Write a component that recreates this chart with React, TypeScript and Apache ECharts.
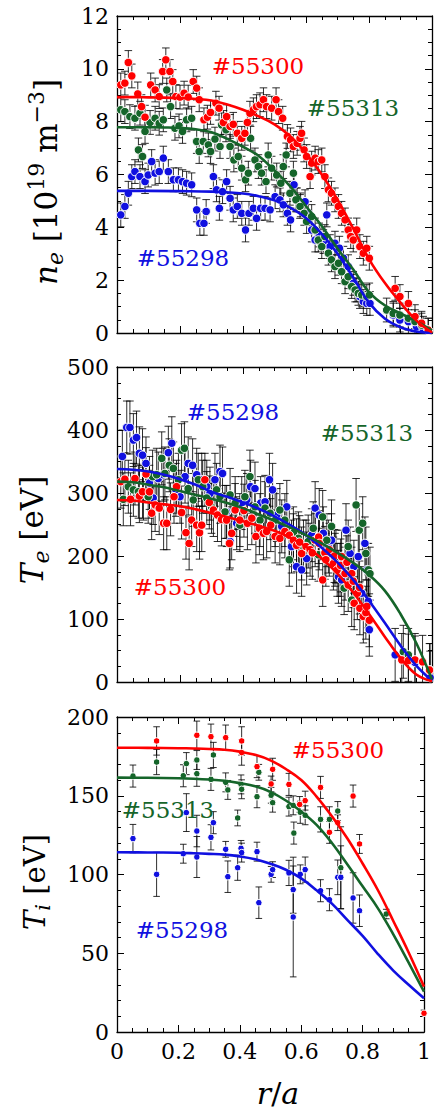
import React, { useEffect, useRef } from 'react';
import * as echarts from 'echarts';

const FONT = '"DejaVu Serif", "Liberation Serif", serif';
const RED = '#ff0000';
const GREEN = '#15652a';
const BLUE = '#1010e0';

// ---------- n_e panel data [r/a, n_e] ----------
const NE_RED: number[][] = [
  [0.012,9.39],[0.025,9.46],[0.036,10.24],[0.047,9.73],[0.066,9.05],[0.078,8.57],[0.089,8.17],[0.107,9.39],[0.121,9.20],[0.134,8.95],
  [0.145,9.90],[0.155,10.34],[0.168,9.90],[0.177,9.52],[0.187,8.95],[0.200,8.93],[0.213,9.08],[0.226,8.93],[0.242,9.52],[0.253,9.27],
  [0.261,8.83],[0.276,8.07],[0.287,8.17],[0.297,8.35],[0.314,8.70],[0.324,8.51],[0.338,7.97],[0.348,8.19],[0.359,7.82],[0.369,7.90],
  [0.382,7.56],[0.396,7.37],[0.406,7.56],[0.414,7.97],[0.422,8.32],[0.433,8.45],[0.443,8.57],[0.454,8.64],[0.465,8.83],[0.475,8.57],
  [0.491,8.51],[0.505,8.83],[0.513,8.38],[0.526,8.13],[0.541,7.44],[0.551,7.31],[0.560,7.06],[0.572,7.18],[0.581,7.37],[0.586,7.56],
  [0.594,6.93],[0.602,6.68],[0.613,5.92],[0.618,6.43],[0.629,6.62],[0.639,6.49],[0.650,6.55],[0.660,5.92],[0.671,5.42],[0.681,5.29],
  [0.692,5.04],[0.703,4.79],[0.713,4.53],[0.724,4.28],[0.734,3.90],[0.742,3.65],[0.750,3.52],[0.761,3.90],[0.771,3.27],[0.782,3.02],
  [0.793,3.21],[0.801,2.83],[0.883,1.69],[0.898,1.38],[0.925,1.12],[0.946,0.62],[0.967,0.37],[0.988,0.11]
];
const NE_GREEN: number[][] = [
  [0.012,8.45],[0.025,8.38],[0.041,8.19],[0.057,8.13],[0.068,6.93],[0.073,8.32],[0.081,6.68],[0.089,7.63],[0.105,7.97],[0.121,8.13],
  [0.134,7.94],[0.147,8.07],[0.158,9.20],[0.170,8.57],[0.184,7.75],[0.197,7.84],[0.208,7.63],[0.221,8.07],[0.237,8.13],[0.253,7.25],
  [0.261,6.87],[0.274,7.25],[0.290,7.12],[0.297,6.87],[0.311,7.34],[0.327,7.06],[0.332,7.88],[0.346,7.69],[0.359,7.06],[0.371,6.55],
  [0.385,6.68],[0.396,6.24],[0.408,5.80],[0.417,6.05],[0.424,7.37],[0.438,6.55],[0.449,6.30],[0.459,6.05],[0.473,5.73],[0.480,6.74],
  [0.491,6.24],[0.507,5.98],[0.520,5.67],[0.528,6.30],[0.537,6.74],[0.549,5.29],[0.560,6.05],[0.568,5.04],[0.581,4.79],[0.594,4.53],
  [0.602,4.22],[0.618,4.41],[0.629,3.90],[0.639,3.52],[0.650,3.27],[0.660,3.65],[0.671,3.02],[0.681,2.77],[0.692,2.51],[0.703,2.64],
  [0.713,2.32],[0.724,1.94],[0.734,2.13],[0.745,1.76],[0.756,1.63],[0.766,1.50],[0.777,1.44],[0.793,1.38],[0.801,1.44],[0.856,0.87],
  [0.877,0.74],[0.898,0.68],[0.925,0.56],[0.946,0.43],[0.967,0.30],[0.988,0.11]
];
const NE_BLUE: number[][] = [
  [0.012,4.47],[0.025,4.79],[0.036,5.29],[0.047,5.92],[0.057,6.11],[0.073,5.92],[0.089,5.73],[0.099,5.98],[0.110,6.49],[0.121,6.05],
  [0.134,6.11],[0.147,6.62],[0.163,6.11],[0.179,5.80],[0.195,5.80],[0.208,5.73],[0.221,5.67],[0.237,5.61],[0.253,4.66],[0.263,4.15],
  [0.276,4.15],[0.283,4.60],[0.306,5.92],[0.316,5.42],[0.325,4.72],[0.335,5.35],[0.348,5.73],[0.359,5.10],[0.369,4.66],[0.382,4.79],
  [0.396,4.53],[0.408,3.90],[0.419,4.53],[0.433,4.72],[0.443,4.34],[0.456,4.72],[0.470,4.72],[0.486,4.66],[0.502,5.16],[0.517,5.04],
  [0.528,4.85],[0.541,4.53],[0.551,4.28],[0.562,5.61],[0.572,5.04],[0.583,4.85],[0.597,4.97],[0.607,4.53],[0.618,3.90],[0.629,3.52],
  [0.642,3.71],[0.655,3.46],[0.666,4.47],[0.676,3.27],[0.692,3.40],[0.706,3.21],[0.719,2.83],[0.734,2.51],[0.750,1.88],[0.761,1.63],
  [0.771,1.38],[0.782,1.19],[0.793,1.12],[0.803,1.12],[0.877,0.68],[0.898,0.49],[0.925,0.43],[0.951,0.24],[0.972,0.18]
];
const NE_ERR = 0.45;
const NE_FIT_RED: number[][] = [
  [0,8.93],[0.05,8.93],[0.1,8.92],[0.15,8.91],[0.2,8.89],[0.25,8.86],[0.3,8.8],[0.35,8.65],[0.4,8.45],[0.45,8.2],[0.5,7.9],
  [0.55,7.45],[0.6,6.8],[0.65,6.0],[0.7,5.05],[0.75,3.95],[0.8,2.8],[0.85,1.9],[0.9,1.15],[0.95,0.48],[1.0,0.02]
];
const NE_FIT_GREEN: number[][] = [
  [0,7.79],[0.05,7.79],[0.1,7.79],[0.15,7.78],[0.2,7.76],[0.25,7.71],[0.3,7.6],[0.35,7.35],[0.4,7.05],[0.45,6.7],[0.5,6.15],
  [0.55,5.55],[0.6,4.8],[0.65,4.05],[0.7,3.2],[0.75,2.4],[0.8,1.55],[0.85,1.05],[0.9,0.74],[0.95,0.44],[1.0,0.1]
];
const NE_FIT_BLUE: number[][] = [
  [0,5.38],[0.1,5.38],[0.2,5.37],[0.3,5.35],[0.4,5.28],[0.45,5.18],[0.5,5.02],[0.55,4.75],[0.6,4.35],[0.65,3.75],[0.7,3.0],
  [0.75,2.1],[0.8,1.15],[0.85,0.55],[0.9,0.22],[0.95,0.06],[1.0,0.01]
];

// ---------- T_e panel data [r/a, T_e] ----------
const TE_RED: number[][] = [
  [0.012,318],[0.025,322],[0.043,290],[0.057,323],[0.071,295],[0.081,302],[0.092,330],[0.103,302],[0.110,268],[0.121,281],
  [0.134,276],[0.148,252],[0.158,252],[0.170,274],[0.181,294],[0.189,310],[0.205,269],[0.219,237],[0.229,220],[0.237,257],
  [0.253,249],[0.262,237],[0.269,249],[0.279,321],[0.293,285],[0.306,273],[0.319,265],[0.332,258],[0.348,257],[0.357,220],
  [0.364,236],[0.375,273],[0.390,257],[0.403,272],[0.414,252],[0.428,260],[0.441,231],[0.452,244],[0.465,236],[0.475,239],
  [0.488,249],[0.502,231],[0.517,228],[0.533,239],[0.547,233],[0.560,225],[0.570,217],[0.580,222],[0.586,204],[0.600,215],
  [0.613,210],[0.620,205],[0.629,225],[0.640,230],[0.642,220],[0.653,162],[0.660,205],[0.663,194],[0.674,210],[0.687,188],
  [0.690,200],[0.699,178],[0.710,185],[0.713,199],[0.724,172],[0.730,190],[0.734,154],[0.745,172],[0.750,160],[0.753,125],
  [0.763,141],[0.770,150],[0.771,117],[0.782,104],[0.790,110],[0.793,120],[0.801,98],[0.904,35],[0.925,34],[0.946,35],
  [0.970,32],[0.992,19]
];
const TE_GREEN: number[][] = [
  [0.020,290],[0.036,310],[0.052,305],[0.068,302],[0.084,299],[0.099,294],[0.113,326],[0.126,329],[0.142,355],[0.152,331],
  [0.166,344],[0.179,339],[0.195,321],[0.205,368],[0.214,371],[0.226,307],[0.242,289],[0.258,321],[0.272,310],[0.285,292],
  [0.300,278],[0.316,305],[0.327,294],[0.343,270],[0.359,297],[0.375,284],[0.390,249],[0.406,294],[0.422,326],[0.438,278],
  [0.454,257],[0.470,276],[0.486,268],[0.502,257],[0.517,273],[0.533,257],[0.547,194],[0.560,236],[0.576,228],[0.592,215],
  [0.607,223],[0.623,244],[0.639,202],[0.653,262],[0.666,225],[0.681,247],[0.695,199],[0.708,178],[0.721,149],[0.734,215],
  [0.745,130],[0.759,281],[0.769,241],[0.780,252],[0.790,204],[0.798,178],[0.803,172],[0.909,48],[0.925,43],[0.994,19]
];
const TE_BLUE: number[][] = [
  [0.017,358],[0.031,404],[0.041,404],[0.052,384],[0.062,388],[0.071,363],[0.081,360],[0.092,347],[0.103,316],[0.115,292],
  [0.131,323],[0.147,329],[0.163,364],[0.174,379],[0.187,305],[0.200,294],[0.216,326],[0.226,347],[0.240,344],[0.253,329],
  [0.269,321],[0.285,310],[0.295,299],[0.311,321],[0.327,334],[0.335,331],[0.348,270],[0.359,223],[0.380,252],[0.396,284],
  [0.412,289],[0.424,310],[0.438,307],[0.456,284],[0.470,286],[0.484,321],[0.494,305],[0.507,265],[0.523,247],[0.539,278],
  [0.554,215],[0.570,183],[0.586,178],[0.602,196],[0.618,233],[0.629,276],[0.642,265],[0.655,236],[0.671,215],[0.681,225],
  [0.692,194],[0.703,167],[0.713,162],[0.727,241],[0.740,204],[0.752,183],[0.766,199],[0.777,141],[0.787,220],[0.793,178],
  [0.798,128],[0.801,83],[0.883,43],[0.946,31],[0.994,7]
];
const TE_ERR = 42;
const TE_FIT_RED: number[][] = [
  [0,289],[0.05,288],[0.1,285],[0.15,282],[0.2,279],[0.25,274],[0.3,268],[0.35,262],[0.4,255],[0.45,248],[0.5,240],
  [0.55,229],[0.6,215],[0.65,196],[0.7,172],[0.75,142],[0.8,108],[0.85,72],[0.9,38],[0.95,12],[1.0,1]
];
const TE_FIT_GREEN: number[][] = [
  [0,318],[0.05,317],[0.1,313],[0.15,309],[0.2,303],[0.25,297],[0.3,291],[0.35,284],[0.4,276],[0.45,266],[0.5,256],
  [0.55,245],[0.6,233],[0.65,220],[0.7,205],[0.75,189],[0.8,170],[0.85,145],[0.9,108],[0.95,62],[1.0,4]
];
const TE_FIT_BLUE: number[][] = [
  [0,338],[0.05,337],[0.1,334],[0.15,329],[0.2,322],[0.25,313],[0.3,302],[0.35,294],[0.4,285],[0.45,275],[0.5,263],
  [0.55,249],[0.6,233],[0.65,213],[0.7,190],[0.75,162],[0.8,129],[0.85,94],[0.9,58],[0.95,26],[1.0,2]
];

// ---------- T_i panel data [r/a, T_i, error] ----------
const TI_RED: number[][] = [
  [0.129,184.8,9],[0.260,188.4,9],[0.306,187.5,8],[0.354,186.9,8],[0.406,184.8,9],[0.406,177.4,8],[0.456,168.5,7],[0.502,157.5,5],
  [0.507,166.8,7],[0.560,157.2,7],[0.595,144.5,5],[0.613,146.9,6],[0.663,155.3,7],[0.692,126.8,7],[0.719,132.9,5],[0.769,149.8,7],
  [0.790,119.4,6],[1.0,11.9,2]
];
const TI_GREEN: number[][] = [
  [0.052,162.5,7],[0.129,171.4,8],[0.216,162.7,7],[0.226,170.4,7],[0.260,172.7,6],[0.260,164.0,8],[0.306,160.4,7],[0.314,175.9,8],
  [0.354,158.5,6],[0.361,153.7,6],[0.393,135.9,5],[0.404,157.2,6],[0.406,154.1,6],[0.456,149.4,7],[0.462,164.9,5],[0.502,150.3,5],
  [0.507,145.6,6],[0.560,143.1,6],[0.574,143.9,6],[0.576,126.3,7],[0.597,139.5,7],[0.613,137.6,6],[0.663,135.0,8],[0.692,135.0,8],
  [0.719,140.3,6],[0.729,104.3,26],[0.877,74.9,3]
];
const TI_BLUE: number[][] = [
  [0.052,122.8,9],[0.129,100.1,14],[0.216,113.2,6],[0.226,139.3,12],[0.260,127.6,10],[0.260,111.1,13],[0.306,123.6,8],[0.314,132.9,7],
  [0.354,116.0,5],[0.361,98.6,10],[0.393,104.3,8],[0.404,116.6,5],[0.406,113.9,6],[0.456,114.5,6],[0.462,82.1,10],[0.502,100.1,5],
  [0.507,103.1,5],[0.560,101.0,8],[0.574,90.4,15],[0.574,73.0,38],[0.597,100.1,6],[0.613,103.1,8],[0.663,89.7,7],[0.692,84.0,7],
  [0.719,98.2,11],[0.729,98.2,20],[0.769,85.1,16],[0.790,77.0,10]
];
const TI_FIT_RED: number[][] = [
  [0,180.5],[0.1,180.4],[0.2,180.2],[0.25,180],[0.3,179.7],[0.35,179.2],[0.4,178],[0.45,176],[0.5,172.5],[0.55,167],[0.6,160],
  [0.65,149.5],[0.7,137],[0.75,123],[0.8,107],[0.85,90],[0.9,70.5],[0.95,50.5],[1.0,28.8]
];
const TI_FIT_GREEN: number[][] = [
  [0,161.5],[0.1,161.4],[0.2,161.1],[0.25,160.8],[0.3,160.3],[0.35,159.5],[0.4,158],[0.45,156],[0.5,152.5],[0.55,147],[0.6,140],
  [0.65,131.5],[0.7,120],[0.75,106.5],[0.8,92.5],[0.85,78.5],[0.9,62],[0.95,44],[1.0,25.6]
];
const TI_FIT_BLUE: number[][] = [
  [0,114.1],[0.1,114],[0.2,113.8],[0.25,113.5],[0.3,113.1],[0.35,112.6],[0.4,111.5],[0.45,109.7],[0.5,106.8],[0.55,103],[0.6,97.5],
  [0.65,90],[0.7,81.5],[0.75,71.2],[0.8,61],[0.85,49.5],[0.9,39],[0.95,30],[1.0,21.4]
];

// axis ranges
const X_RANGE = { min: 0, max: 1, interval: 0.2, minor: 4 };
const Y_RANGES = [
  { min: 0, max: 12, interval: 2, minor: 4 },
  { min: 0, max: 500, interval: 100, minor: 4 },
  { min: 0, max: 200, interval: 50, minor: 5 },
];

const GRIDS = [
  { left: 117, top: 16, width: 315, height: 317 },
  { left: 117, top: 367, width: 315, height: 315 },
  { left: 117, top: 717, width: 315, height: 315 },
];

function axisCommon(showLabel: boolean, margin: number) {
  return {
    axisLine: { show: true, onZero: false, lineStyle: { color: '#000', width: 1.3 } },
    axisTick: { show: true, inside: true, length: 7, lineStyle: { color: '#000', width: 1 } },
    splitLine: { show: false },
    minorSplitLine: { show: false },
    axisLabel: { show: showLabel, fontFamily: FONT, fontSize: 22, color: '#000', margin },
  };
}

function buildOption() {
  const xAxis: any[] = [];
  const yAxis: any[] = [];
  GRIDS.forEach((_, gi) => {
    ['bottom', 'top'].forEach((pos) => {
      xAxis.push({
        type: 'value', gridIndex: gi, position: pos,
        min: X_RANGE.min, max: X_RANGE.max, interval: X_RANGE.interval,
        ...axisCommon(gi === 2 && pos === 'bottom', 8),
        minorTick: { show: true, splitNumber: X_RANGE.minor, length: 4, lineStyle: { color: '#000', width: 1 } },
      });
    });
    const yr = Y_RANGES[gi];
    ['left', 'right'].forEach((pos) => {
      yAxis.push({
        type: 'value', gridIndex: gi, position: pos,
        min: yr.min, max: yr.max, interval: yr.interval,
        ...axisCommon(pos === 'left', 8),
        minorTick: { show: true, splitNumber: yr.minor, length: 4, lineStyle: { color: '#000', width: 1 } },
      });
    });
  });

  const series: any[] = [];
  const errRender = (cap: number) => (params: any, api: any) => {
    const x = api.value(0), y = api.value(1), e = api.value(2);
    const p1 = api.coord([x, y + e]);
    const p2 = api.coord([x, y - e]);
    const style = { stroke: 'rgba(0,0,0,0.82)', lineWidth: 1 };
    return {
      type: 'group',
      children: [
        { type: 'line', shape: { x1: p1[0], y1: p1[1], x2: p2[0], y2: p2[1] }, style },
        { type: 'line', shape: { x1: p1[0] - cap, y1: p1[1], x2: p1[0] + cap, y2: p1[1] }, style },
        { type: 'line', shape: { x1: p2[0] - cap, y1: p2[1], x2: p2[0] + cap, y2: p2[1] }, style },
      ],
    };
  };

  const addPanel = (gi: number, fits: [number[][], string][], sets: [number[][], string, number | null][], symSize: number, cap: number) => {
    const xi = gi * 2, yi = gi * 2;
    fits.forEach(([d, c]) => {
      series.push({
        type: 'line', xAxisIndex: xi, yAxisIndex: yi, data: d, smooth: 0.4, showSymbol: false, symbol: 'none',
        lineStyle: { color: c, width: 2.6 }, clip: true, silent: true,
      });
    });
    sets.forEach(([d, c, err]) => {
      const ed = d.map((p) => [p[0], p[1], err == null ? p[2] : err]);
      series.push({
        type: 'custom', xAxisIndex: xi, yAxisIndex: yi, data: ed, renderItem: errRender(cap),
        encode: { x: 0, y: 1 }, clip: true, silent: true,
      });
      series.push({
        type: 'scatter', xAxisIndex: xi, yAxisIndex: yi, data: d.map((p) => [p[0], p[1]]),
        symbolSize: symSize, clip: true, silent: true,
        itemStyle: { color: c, borderColor: '#fff', borderWidth: 1, opacity: 1 },
      });
    });
  };

  addPanel(0, [[NE_FIT_BLUE, BLUE], [NE_FIT_GREEN, GREEN], [NE_FIT_RED, RED]],
    [[NE_BLUE, BLUE, NE_ERR], [NE_GREEN, GREEN, NE_ERR], [NE_RED, RED, NE_ERR]], 8.5, 3.8);
  addPanel(1, [[TE_FIT_BLUE, BLUE], [TE_FIT_GREEN, GREEN], [TE_FIT_RED, RED]],
    [[TE_BLUE, BLUE, TE_ERR], [TE_GREEN, GREEN, TE_ERR], [TE_RED, RED, TE_ERR]], 8.5, 3.8);
  addPanel(2, [[TI_FIT_BLUE, BLUE], [TI_FIT_GREEN, GREEN], [TI_FIT_RED, RED]],
    [[TI_BLUE, BLUE, null], [TI_GREEN, GREEN, null], [TI_RED, RED, null]], 6.5, 3.3);

  const ann = (text: string, x: number, y: number, fill: string) => ({
    type: 'text', x, y, z: 100,
    style: { text, fill, fontFamily: FONT, fontSize: 23, align: 'center', verticalAlign: 'middle' },
  });

  const richFor = (main: number, small: number) => ({
    it: { fontFamily: FONT, fontSize: main, fontStyle: 'italic', lineHeight: main * 1.3, fill: '#000' },
    rm: { fontFamily: FONT, fontSize: main, lineHeight: main * 1.3, fill: '#000' },
    sub: { fontFamily: FONT, fontSize: small, fontStyle: 'italic', lineHeight: small * 0.95, verticalAlign: 'bottom', fill: '#000' },
    sup: { fontFamily: FONT, fontSize: small, lineHeight: small * 1.1, verticalAlign: 'top', fill: '#000' },
  });

  const ytitle = (text: string, x: number, y: number, main: number, small: number) => ({
    type: 'text', x, y, rotation: Math.PI / 2, z: 100,
    style: { text, align: 'center', verticalAlign: 'middle', rich: richFor(main, small), fill: '#000' },
  });

  const graphic = [
    ann('#55300', 258, 66, RED),
    ann('#55313', 353, 108, GREEN),
    ann('#55298', 183, 258, BLUE),
    ann('#55298', 233, 412, BLUE),
    ann('#55313', 367, 433, GREEN),
    ann('#55300', 180, 587, RED),
    ann('#55300', 338, 750, RED),
    ann('#55313', 168, 810, GREEN),
    ann('#55298', 182, 930, BLUE),
    ytitle('{it|n}{sub|e}{rm| [10}{sup|19}{rm| m}{sup|−3}{rm|]}', 46, 182, 31, 22),
    ytitle('{it|T}{sub|e}{rm| [eV]}', 32, 530, 31, 22),
    ytitle('{it|T}{sub|i}{rm| [eV]}', 35, 882, 29, 21),
    {
      type: 'text', x: 278, y: 1093, z: 100,
      style: { text: '{it|r}{rm|/}{it|a}', align: 'center', verticalAlign: 'middle', rich: richFor(30, 22) },
    },
  ];

  return {
    animation: false,
    backgroundColor: '#fff',
    grid: GRIDS.map((g) => ({ ...g, containLabel: false })),
    xAxis,
    yAxis,
    series,
    graphic,
  };
}

export default function App() {
  const ref = useRef<HTMLDivElement>(null);
  useEffect(() => {
    const chart = echarts.init(ref.current!, null, { renderer: 'svg' });
    chart.setOption(buildOption() as any);
    return () => chart.dispose();
  }, []);
  return (
    <div
      ref={ref}
      style={{ position: 'absolute', left: 0, top: 0, width: 434, height: 1113, background: '#fff' }}
    />
  );
}
